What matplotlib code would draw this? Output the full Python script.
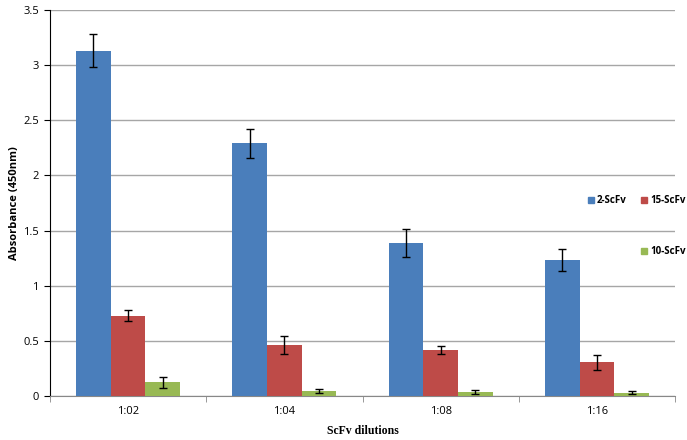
import matplotlib
matplotlib.use("Agg")
import matplotlib.pyplot as plt
import numpy as np
from matplotlib.patches import Patch

categories = ["1:02", "1:04", "1:08", "1:16"]
series_names = ["2-ScFv", "15-ScFv", "10-ScFv"]
vals_2 = [3.13, 2.29, 1.385, 1.23]
err_2 = [0.15, 0.135, 0.125, 0.10]
vals_15 = [0.728, 0.46, 0.414, 0.305]
err_15 = [0.05, 0.08, 0.035, 0.07]
vals_10 = [0.124, 0.045, 0.036, 0.03]
err_10 = [0.05, 0.02, 0.015, 0.015]
colors = ["#4a7ebb", "#be4b48", "#98b954"]
yticks = [0, 0.5, 1, 1.5, 2, 2.5, 3, 3.5]
ytick_labels = ["0", "0.5", "1", "1.5", "2", "2.5", "3", "3.5"]

fig = plt.figure(figsize=(6.87, 4.40), dpi=100)
ax = fig.add_axes([50/687, 1 - 396/440, (675-50)/687, (396-10)/440])

x = np.arange(len(categories))
w = 0.222
for i, (v, e) in enumerate([(vals_2, err_2), (vals_15, err_15), (vals_10, err_10)]):
    ax.bar(x + (i - 1) * w, v, width=w, color=colors[i], label=series_names[i], zorder=3)
    ax.errorbar(x + (i - 1) * w, v, yerr=e, fmt="none", ecolor="black",
                elinewidth=1, capsize=3, capthick=1, zorder=4)

ax.set_xlim(-0.5, len(categories) - 0.5)
ax.set_ylim(0, 3.5)
ax.set_yticks(yticks)
ax.set_yticklabels(ytick_labels, fontsize=8, family="Open Sans")
ax.set_xticks(x)
ax.set_xticklabels(categories, fontsize=8, family="Open Sans")
ax.set_xticks(np.arange(len(categories) + 1) - 0.5, minor=True)
ax.tick_params(axis="x", which="major", length=0, pad=7)
ax.tick_params(axis="x", which="minor", length=4, color="#888888", direction="out")
ax.tick_params(axis="y", length=4, direction="out", color="black", pad=4)
ax.yaxis.grid(True, color="#a6a6a6", linewidth=1, zorder=0)
ax.set_axisbelow(True)
for s in ["top", "right"]:
    ax.spines[s].set_visible(False)
ax.spines["bottom"].set_color("#888888")
ax.spines["left"].set_color("black")

ax.set_ylabel("Absorbance (450nm)", fontsize=8, fontweight="bold", family="Open Sans", labelpad=2)
ax.set_xlabel("ScFv dilutions", fontsize=8.5, fontweight="bold", family="Liberation Serif", labelpad=6)

handles = [Patch(color=colors[0]), Patch(alpha=0), Patch(color=colors[1]), Patch(color=colors[2])]
labels = [series_names[0], "", series_names[1], series_names[2]]
leg = ax.legend(handles, labels, ncol=2, loc="upper left", bbox_to_anchor=(534/625, 0.53),
                frameon=False, prop={"family": "Open Sans", "weight": "bold", "size": 7},
                handlelength=0.6, handleheight=0.6, handletextpad=0.35, columnspacing=1.5,
                labelspacing=4.1, borderaxespad=0)

fig.savefig("out.png", dpi=100)
